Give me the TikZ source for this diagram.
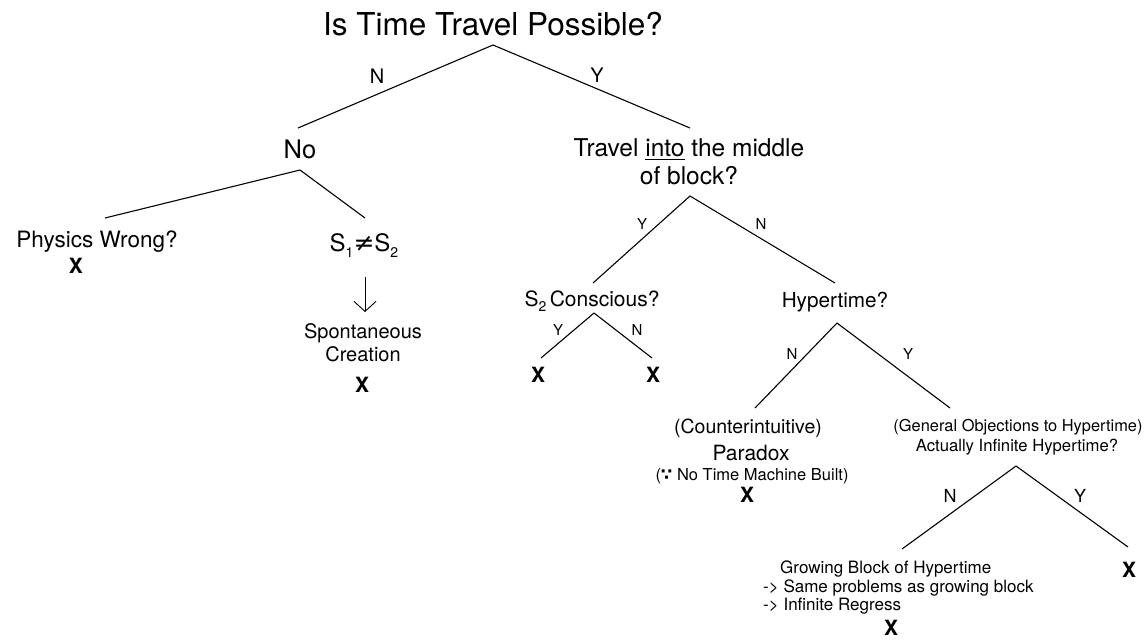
\documentclass[tikz,border=0pt]{standalone}
\usepackage{amsmath}
\usepackage{amssymb}
\usepackage{fontspec}
\setmainfont{TeX Gyre Heros}
\newfontfamily\symfont{DejaVu Sans}
\usetikzlibrary{arrows.meta}
\newcommand{\fsz}[1]{\fontsize{#1}{#1}\selectfont}
\newcommand{\subs}[1]{\raisebox{-0.28em}{\fontsize{14}{14}\selectfont #1}}
\tikzset{txt/.style={inner sep=0pt,anchor=base,font=\fsz{#1}},
  xmark/.style={inner sep=0pt,anchor=base,font=\fsz{21}\bfseries},
  yn/.style={inner sep=0pt,anchor=base,font=\fsz{#1}},
  branch/.style={draw,line width=1.1pt},
  downarrow/.style={draw,line width=0.9pt,-{Straight Barb[length=10pt,width=22pt]}},}

\begin{document}
\begin{tikzpicture}[x=1pt,y=-1pt]
\fill[white] (0,0) rectangle (1147,640);
\useasboundingbox (0,0) rectangle (1147,640);

 % top question
 \node[txt=31.5] (q1) at (493,35) {Is Time Travel Possible?};
 \coordinate (q1a) at (493,45);
 \coordinate (not) at (298,128);
 \coordinate (trt) at (690,128);
     \path[branch] (q1a) edge (not) edge (trt);
 \node[yn=20] (q1n) at (377,83) {N};
 \node[yn=20] (q1y) at (597,82) {Y};

 % left branch
 \node[txt=25.5] (no) at (300,158) {No};
 \coordinate (noa) at (300,170);
 \coordinate (pht) at (105,218);
 \coordinate (sst) at (365,218);
     \path[branch] (noa) edge (pht) edge (sst);
 \node[txt=22.5] (phys) at (97,247) {Physics Wrong?};
 \node[xmark] (physx) at (76,273) {X};
 \node[txt=24] (neq) at (364,251) {S\subs{1}{\symfont\fsz{25}≠}S\subs{2}};
 \coordinate (neqb) at (365,277);
 \coordinate (spt) at (365,312);
     \path[downarrow] (neqb) -- (spt);
 \node[txt=20] (spont1) at (363,338) {Spontaneous};
 \node[txt=20] (spont2) at (363,361) {Creation};
 \node[xmark] (spontx) at (362,392) {X};

 % right branch
 \node[txt=24.5] (mid1) at (689,156) {Travel \underline{into} the middle};
 \node[txt=24.5] (mid2) at (689,184) {of block?};
 \coordinate (mida) at (690,196);
 \coordinate (cot) at (593,283);
 \coordinate (hyt) at (835,283);
     \path[branch] (mida) edge (cot) edge (hyt);
 \node[yn=15] (midy) at (642,229) {Y};
 \node[yn=15] (midn) at (761,229) {N};

 \node[txt=21] (consc) at (592,306) {S\subs{2}\,Conscious?};
 \coordinate (coa) at (594,313);
 \coordinate (cyt) at (541,358);
 \coordinate (cnt) at (652,358);
     \path[branch] (coa) edge (cyt) edge (cnt);
 \node[yn=15] (coy) at (558,335) {Y};
 \node[yn=15] (con) at (637,335) {N};
 \node[xmark] (coyx) at (538,382) {X};
 \node[xmark] (conx) at (653,382) {X};

 \node[txt=20.7] (hyper) at (835,307) {Hypertime?};
 \coordinate (hya) at (837,323);
 \coordinate (pat) at (755,408);
 \coordinate (gnt) at (950,408);
     \path[branch] (hya) edge (pat) edge (gnt);
 \node[yn=15] (hyn) at (792,359) {N};
 \node[yn=15] (hyy) at (908,359) {Y};

 \node[txt=19.5] (para1) at (748,433) {(Counterintuitive)};
 \node[txt=21] (para2) at (751,460) {Paradox};
 \node[txt=16.5] (para3) at (752,480) {({\symfont\bfseries ∵} No Time Machine Built)};
 \node[xmark] (parax) at (747,502) {X};

 \node[txt=16.4] (gen1) at (1018,431) {(General Objections to Hypertime)};
 \node[txt=16.7] (gen2) at (1017,451) {Actually Infinite Hypertime?};
 \coordinate (gena) at (1016,466);
 \coordinate (grt) at (902,549);
 \coordinate (inft) at (1128,547);
     \path[branch] (gena) edge (grt) edge (inft);
 \node[yn=18] (genn) at (950,502) {N};
 \node[yn=18] (geny) at (1080,502) {Y};
 \node[xmark] (infx) at (1129,577) {X};

 \node[txt=17,anchor=base west] (grow1) at (780,573) {Growing Block of Hypertime};
 \node[txt=17,anchor=base west] (grow2) at (763,592) {-> Same problems as growing block};
 \node[txt=17,anchor=base west] (grow3) at (763,610) {-> Infinite Regress};
 \node[xmark] (growx) at (891,635) {X};
\end{tikzpicture}
\end{document}
